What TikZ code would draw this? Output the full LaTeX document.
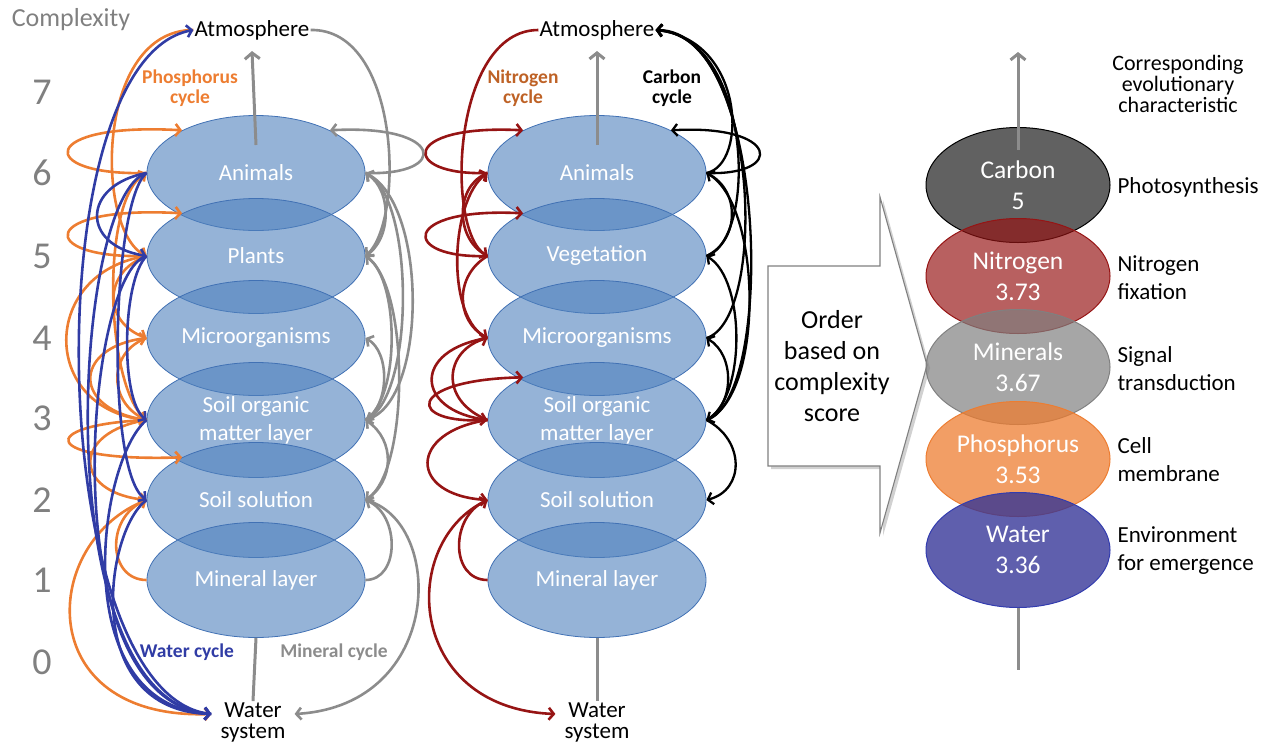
\documentclass[tikz,border=0pt]{standalone}
\usepackage{fontspec}
\setmainfont{Carlito}
\usetikzlibrary{arrows.meta,shapes.geometric}
\definecolor{ellFill}{RGB}{79,129,189}
\definecolor{ellDraw}{RGB}{65,113,180}
\definecolor{porange}{RGB}{237,125,49}
\definecolor{wblue}{RGB}{48,60,165}
\definecolor{mgray}{RGB}{140,140,140}
\definecolor{nred}{RGB}{150,20,20}
\definecolor{nlab}{RGB}{190,98,38}
\definecolor{axgray}{RGB}{128,128,128}
\definecolor{cgray}{RGB}{128,128,128}
\definecolor{wdark}{RGB}{50,50,150}
\definecolor{wdraw}{RGB}{50,60,175}
\begin{document}
\begin{tikzpicture}[x=1pt,y=-1pt,
  lell/.style={ellipse, draw=ellDraw, fill=ellFill, fill opacity=0.6, text opacity=1, text=white,
    minimum width=218pt, minimum height=115pt, inner sep=0pt, align=center, line width=0.8pt,
    font=\fontsize{23}{28}\selectfont},
  rell/.style={ellipse, fill opacity=0.72, text opacity=1, text=white,
    minimum width=184pt, minimum height=115pt, inner sep=0pt, align=center, line width=1pt,
    font=\fontsize{25.5}{31}\selectfont},
  cyc/.style={line width=2.6pt, -{Straight Barb[length=5pt,width=12pt]}},
  oc/.style={cyc, draw=porange},
  bc/.style={cyc, draw=wblue},
  gc/.style={cyc, draw=mgray},
  rc/.style={cyc, draw=nred},
  kc/.style={cyc, draw=black, line width=2.3pt},
  uparr/.style={draw=mgray, line width=3pt, -{Straight Barb[length=6pt,width=15pt]}},
  stem/.style={draw=mgray, line width=3pt},
  axisnum/.style={text=axgray, font=\fontsize{38}{40}\selectfont},
  place/.style={text=black, align=center, inner sep=1pt, font=\fontsize{23}{21}\selectfont},
  cyclab/.style={align=center, font=\bfseries\fontsize{19.5}{20}\selectfont},
  rlab/.style={anchor=west, align=left, text=black, font=\fontsize{23}{28}\selectfont}
]
\useasboundingbox (0,0) rectangle (1270,745);

% complexity axis
\node[text=axgray, font=\fontsize{26}{28}\selectfont] (cx) at (71,20) {Complexity};
\foreach \n/\yy in {7/92,6/173,5/256,4/338,3/418,2/500,1/580,0/662}
  \node[axisnum] (ax\n) at (42,\yy) {\n};

% ---------------- left column ----------------
\node[place] (LAtm) at (252,30) {Atmosphere};
\node[place] (LWat) at (253,722) {Water\\system};
\node[lell] (L1) at (256,173) {Animals};
\node[lell] (L2) at (256,256) {Plants};
\node[lell] (L3) at (256,338) {Microorganisms};
\node[lell] (L4) at (256,420) {Soil organic\\matter layer};
\node[lell] (L5) at (256,500) {Soil solution};
\node[lell] (L6) at (256,580) {Mineral layer};
\coordinate (LWin) at ([xshift=-8pt,yshift=8pt]LWat.west);
\coordinate (LWout) at ([xshift=8pt,yshift=8pt]LWat.east);

% phosphorus (orange)
\draw[oc] (L1.west) .. controls (35,176) and (38,122) .. (L1.150);
\draw[oc] (L2.west) .. controls (35,259) and (38,205) .. (L2.150);
\draw[oc] (LAtm.west) .. controls (95,30) and (95,230) .. (L2.west);
\draw[oc] (L4.west) .. controls (105,390) and (100,200) .. (L1.west);
\draw[oc] (L2.west) .. controls (40,272) and (40,408) .. (L4.west);
\draw[oc] (L2.west) .. controls (103,272) and (103,322) .. (L3.west);
\draw[oc] (L4.west) .. controls (72,410) and (72,348) .. (L3.west);
\draw[oc] (L3.west) .. controls (108,352) and (108,402) .. (L4.west);
\draw[oc] (L4.west) .. controls (35,425) and (40,462) .. (L5.150);
\draw[oc] (L4.west) .. controls (72,432) and (72,492) .. (L5.west);
\draw[oc] (L6.west) .. controls (108,580) and (105,518) .. (L5.west);
\draw[oc] (L5.west) .. controls (40,540) and (30,720) .. (LWin);

% water (blue)
\draw[bc] (LWin) .. controls (45,700) and (32,60) .. (LAtm.west);
\draw[bc] (L1.west) .. controls (72,195) and (45,700) .. (LWin);
\draw[bc] (L1.west) .. controls (82,185) and (80,245) .. (L2.west);
\draw[bc] (L2.west) .. controls (85,272) and (50,700) .. (LWin);
\draw[bc] (L1.west) .. controls (112,200) and (105,470) .. (L5.west);
\draw[bc] (L2.west) .. controls (122,280) and (120,400) .. (L4.west);
\draw[bc] (L4.west) .. controls (98,460) and (65,705) .. (LWin);
\draw[bc] (L5.west) .. controls (105,530) and (80,710) .. (LWin);

% mineral (gray)
\draw[gc] (LAtm.east) .. controls (400,28) and (405,220) .. (L2.east);
\draw[gc] (L1.east) .. controls (450,176) and (445,124) .. (L1.30);
\draw[gc] (L2.east) .. controls (392,240) and (392,190) .. (L1.east);
\draw[gc] (L4.east) .. controls (415,400) and (415,200) .. (L1.east);
\draw[gc] (L4.east) .. controls (400,400) and (400,280) .. (L2.east);
\draw[gc] (L4.east) .. controls (390,405) and (390,352) .. (L3.east);
\draw[gc] (L1.east) .. controls (428,200) and (428,400) .. (L4.east);
\draw[gc] (L2.east) .. controls (410,282) and (410,470) .. (L5.east);
\draw[gc] (L5.east) .. controls (395,482) and (395,440) .. (L4.east);
\draw[gc] (L5.east) .. controls (445,520) and (445,705) .. (LWout);
\draw[gc] (L6.east) .. controls (400,580) and (400,515) .. (L5.east);

\draw[uparr] ([yshift=28pt]L1.center) -- ([yshift=-10pt]LAtm.south);
\draw[stem] (L6.south) -- (LWat.north);

\node[cyclab, text=porange] (lphos) at (190,88) {Phosphorus\\cycle};
\node[cyclab, text=wblue] (lwat) at (187,652) {Water cycle};
\node[cyclab, text=mgray] (lmin) at (334,652) {Mineral cycle};

% ---------------- middle column ----------------
\node[place] (MAtm) at (597,30) {Atmosphere};
\node[place] (MWat) at (597,722) {Water\\system};
\node[lell] (M1) at (597,173) {Animals};
\node[lell] (M2) at (597,256) {Vegetation};
\node[lell] (M3) at (597,338) {Microorganisms};
\node[lell] (M4) at (597,420) {Soil organic\\matter layer};
\node[lell] (M5) at (597,500) {Soil solution};
\node[lell] (M6) at (597,580) {Mineral layer};
\coordinate (MWin) at ([xshift=-8pt,yshift=8pt]MWat.west);

% nitrogen (dark red)
\draw[rc] (MAtm.west) .. controls (452,30) and (445,230) .. (M2.west);
\draw[rc] (M1.west) .. controls (400,176) and (400,124) .. (M1.150);
\draw[rc] (M2.west) .. controls (400,259) and (400,207) .. (M2.150);
\draw[rc] (M2.west) .. controls (455,240) and (455,188) .. (M1.west);
\draw[rc] (M3.west) .. controls (445,320) and (450,200) .. (M1.west);
\draw[rc] (M2.west) .. controls (455,275) and (455,320) .. (M3.west);
\draw[rc] (M4.west) .. controls (405,425) and (405,380) .. (M4.150);
\draw[rc] (M4.west) .. controls (438,400) and (445,350) .. (M3.west);
\draw[rc] (M3.west) .. controls (412,350) and (415,410) .. (M4.west);
\draw[rc] (M4.west) .. controls (408,432) and (408,495) .. (M5.west);
\draw[rc] (M6.west) .. controls (450,580) and (450,517) .. (M5.west);
\draw[rc] (M5.west) .. controls (398,540) and (405,708) .. (MWin);

% carbon (black)
\draw[kc] (M1.east) .. controls (748,165) and (745,40) .. (MAtm.east);
\draw[kc] (M2.east) .. controls (758,240) and (752,38) .. (MAtm.east);
\draw[kc] (M3.east) .. controls (768,320) and (760,35) .. (MAtm.east);
\draw[kc] (M4.east) .. controls (776,400) and (768,30) .. (MAtm.east);
\draw[kc] (M1.east) .. controls (785,176) and (780,124) .. (M1.30);
\draw[kc] (M2.east) .. controls (740,240) and (740,190) .. (M1.east);
\draw[kc] (M1.east) .. controls (762,200) and (765,392) .. (M4.east);
\draw[kc] (M4.east) .. controls (746,400) and (746,280) .. (M2.east);
\draw[kc] (M4.east) .. controls (735,405) and (735,355) .. (M3.east);
\draw[kc] (M4.east) .. controls (745,440) and (745,490) .. (M5.east);

\draw[uparr] ([yshift=28pt]M1.center) -- ([yshift=-10pt]MAtm.south);
\draw[stem] (M6.south) -- (MWat.north);

\node[cyclab, text=nlab] (lnit) at (523,88) {Nitrogen\\cycle};
\node[cyclab, text=black] (lcar) at (672,88) {Carbon\\cycle};

% ---------------- callout ----------------
\fill[black!18] (771,269) -- (883,269) -- (883,200) -- (930,368) -- (883,536) -- (883,469) -- (771,469) -- cycle;
\filldraw[draw=cgray, fill=white, line width=1.1pt] (768,266) -- (880,266) -- (880,197) -- (927,365) -- (880,533) -- (880,466) -- (768,466) -- cycle;
\node[align=center, text=black, font=\fontsize{26}{31}\selectfont] (order) at (832,366) {Order\\based on\\complexity\\score};

% ---------------- right column ----------------
\node[rell, fill=black, draw=black, fill opacity=0.62] (RC) at (1018,185) {Carbon\\5};
\node[rell, fill=nred, draw=nred, fill opacity=0.68] (RN) at (1018,276) {Nitrogen\\3.73};
\node[rell, fill=cgray, draw=cgray, fill opacity=0.7] (RM) at (1018,367) {Minerals\\3.67};
\node[rell, fill=porange, draw=porange, fill opacity=0.75] (RP) at (1018,459) {Phosphorus\\3.53};
\node[rell, fill=wdark, draw=wdraw, fill opacity=0.78] (RW) at (1018,550) {Water\\3.36};
\coordinate (RTop) at (1018,52);
\coordinate (RBot) at (1018,670);
\draw[uparr] ([yshift=35pt]RC.center) -- (RTop);
\draw[stem] (RW.south) -- (RBot);

\node[align=center, text=black, font=\fontsize{22}{21}\selectfont] (rhead) at (1178,84) {Corresponding\\evolutionary\\characteristic};
\node[rlab] (r1) at (1114,187) {Photosynthesis};
\node[rlab] (r2) at (1114,278) {Nitrogen\\fixation};
\node[rlab] (r3) at (1114,369) {Signal\\transduction};
\node[rlab] (r4) at (1114,460) {Cell\\membrane};
\node[rlab] (r5) at (1114,551) {Environment\\for emergence};
\end{tikzpicture}
\end{document}
